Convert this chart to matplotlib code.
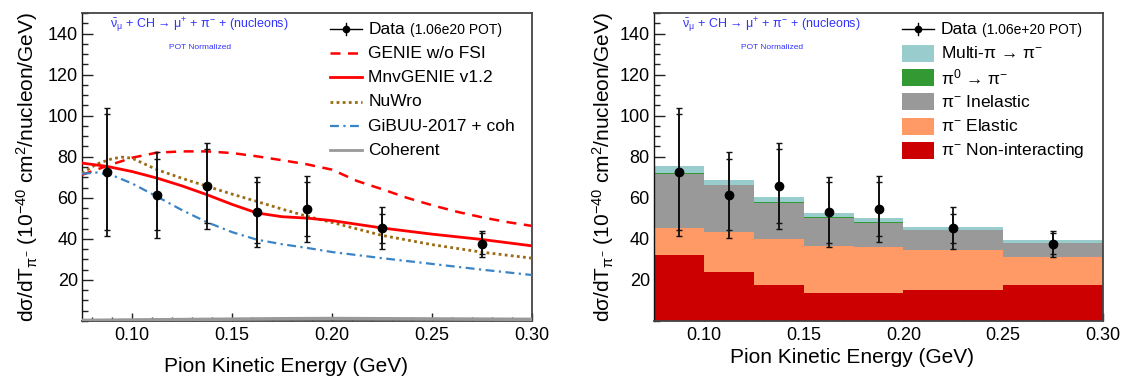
import matplotlib
matplotlib.use('Agg')
import matplotlib.pyplot as plt
from matplotlib.patches import Rectangle
from matplotlib.lines import Line2D
from matplotlib.ticker import MultipleLocator, FixedLocator, FormatStrFormatter

plt.rcParams['font.family'] = ['Liberation Sans', 'DejaVu Sans']
plt.rcParams['mathtext.fontset'] = 'custom'
plt.rcParams['mathtext.rm'] = 'Liberation Sans'
plt.rcParams['mathtext.it'] = 'Liberation Sans:italic'
plt.rcParams['mathtext.bf'] = 'Liberation Sans:bold'
plt.rcParams['mathtext.sf'] = 'Liberation Sans'

# ---------------- data ----------------
bin_edges = [0.075, 0.100, 0.125, 0.150, 0.175, 0.200, 0.250, 0.300]
data_x = [0.0875, 0.1125, 0.1375, 0.1625, 0.1875, 0.225, 0.275]
data_y = [72.5, 61.5, 65.9, 53.0, 54.6, 45.2, 37.7]
data_err_tot = [31.3, 21.0, 20.9, 17.2, 16.2, 10.2, 6.3]
data_err_stat = [28.2, 17.3, 18.0, 14.8, 13.3, 7.0, 5.0]

# model curves (left panel)
genie_nofsi_x = [0.075, 0.0875, 0.100, 0.1125, 0.125, 0.1375, 0.150, 0.1625, 0.175, 0.1875, 0.200, 0.2125, 0.225, 0.2375, 0.250, 0.2625, 0.275, 0.2875, 0.300]
genie_nofsi_y = [71.2, 75.5, 79.5, 82.0, 82.6, 82.6, 81.8, 80.2, 78.3, 76.3, 73.7, 68.2, 64.2, 60.0, 56.4, 53.2, 50.5, 48.2, 46.3]

mnv_x = [0.075, 0.0875, 0.100, 0.1125, 0.125, 0.1375, 0.150, 0.1625, 0.175, 0.1875, 0.200, 0.225, 0.250, 0.275, 0.300]
mnv_y = [76.9, 75.3, 72.8, 69.6, 65.8, 61.5, 56.8, 52.6, 50.8, 50.1, 48.9, 45.3, 42.3, 39.7, 36.6]

nuwro_x = [0.075, 0.0825, 0.090, 0.095, 0.100, 0.1125, 0.125, 0.1375, 0.150, 0.1625, 0.175, 0.1875, 0.200, 0.225, 0.250, 0.275, 0.300]
nuwro_y = [72.0, 76.5, 79.0, 79.8, 79.3, 73.7, 69.5, 65.6, 61.8, 58.2, 54.5, 51.0, 48.0, 41.7, 37.2, 33.5, 30.6]

gibuu_x = [0.075, 0.0825, 0.090, 0.100, 0.1125, 0.125, 0.1375, 0.150, 0.1625, 0.175, 0.1875, 0.200, 0.225, 0.250, 0.275, 0.300]
gibuu_y = [71.7, 72.3, 71.0, 67.0, 60.6, 54.0, 48.1, 43.3, 39.6, 37.4, 35.6, 33.6, 30.6, 27.8, 25.0, 22.4]

coh_x = [0.075, 0.100, 0.125, 0.150, 0.175, 0.200, 0.225, 0.250, 0.275, 0.300]
coh_y = [0.3, 0.5, 0.7, 0.9, 1.1, 1.2, 1.1, 1.0, 0.9, 0.8]

# stacked components (right panel)
noninteract = [32.2, 23.9, 17.6, 13.8, 13.5, 15.1, 17.6]
elastic = [13.0, 19.5, 22.4, 22.9, 22.7, 19.5, 13.8]
inelastic = [26.5, 22.6, 17.6, 13.6, 11.6, 9.5, 6.5]
pi0_to_pim = [0.4, 0.4, 0.4, 0.4, 0.4, 0.4, 0.3]
multipi = [3.3, 2.5, 2.2, 2.0, 1.8, 1.1, 1.4]

left_labels = ['GENIE w/o FSI', 'MnvGENIE v1.2', 'NuWro', 'GiBUU-2017 + coh', 'Coherent']
right_labels = [r'Multi-$\mathrm{\pi}$ → $\mathrm{\pi}^{-}$',
                r'$\mathrm{\pi}^{0}$ → $\mathrm{\pi}^{-}$',
                r'$\mathrm{\pi}^{-}$ Inelastic',
                r'$\mathrm{\pi}^{-}$ Elastic',
                r'$\mathrm{\pi}^{-}$ Non-interacting']

# ---------------- styles ----------------
C_RED = '#FF0000'
C_NUWRO = '#9C6A12'
C_GIBUU = '#3A84C6'
C_COH = '#999999'
C_MULTI = '#99CCCC'
C_PI0 = '#339933'
C_INEL = '#999999'
C_EL = '#FF9966'
C_NONINT = '#CC0000'
C_BLUE = '#3333FF'

W, H = 1128, 377
fig = plt.figure(figsize=(W / 100, H / 100), dpi=100)
axL = fig.add_axes([82 / W, 56 / H, 450 / W, 308 / H])
axR = fig.add_axes([654 / W, 56 / H, 449 / W, 308 / H])


def setup(ax, xlabel_x, ylabel_x, xlabelpad):
    ax.set_xlim(0.075, 0.30)
    ax.set_ylim(0, 150)
    ax.yaxis.set_major_locator(FixedLocator([20, 40, 60, 80, 100, 120, 140]))
    ax.yaxis.set_minor_locator(MultipleLocator(5))
    ax.xaxis.set_major_locator(FixedLocator([0.10, 0.15, 0.20, 0.25, 0.30]))
    ax.xaxis.set_minor_locator(MultipleLocator(0.01))
    ax.xaxis.set_major_formatter(FormatStrFormatter('%.2f'))
    ax.tick_params(which='both', direction='in', top=False, right=False, labelsize=13, color='#222222')
    ax.tick_params(axis='y', which='major', length=8, width=1, pad=3)
    ax.tick_params(axis='y', which='minor', length=4, width=1)
    ax.tick_params(axis='x', which='major', length=6, width=1, pad=4)
    ax.tick_params(axis='x', which='minor', length=3, width=1)
    for s in ax.spines.values():
        s.set_color('#444444')
        s.set_linewidth(1.3)
    ax.spines['left'].set_color('#111111')
    ax.spines['left'].set_linewidth(1.0)
    ax.set_xlabel('Pion Kinetic Energy (GeV)', fontsize=15, labelpad=xlabelpad)
    ax.xaxis.label.set_x(xlabel_x)
    ax.set_ylabel(r'd$\mathrm{\sigma}$/dT$_{\mathrm{\pi}^{-}}$ (10$^{-40}$ cm$^{2}$/nucleon/GeV)', fontsize=15)
    ax.yaxis.label.set_va('center')
    ax.yaxis.set_label_coords(ylabel_x, 0.5)
    ax.text(0.062, 0.959, r'$\bar{\mathrm{\nu}}_{\mathrm{\mu}}$ + CH → $\mathrm{\mu}^{+}$ + $\mathrm{\pi}^{-}$ + (nucleons)',
            transform=ax.transAxes, color=C_BLUE, fontsize=9, ha='left', va='center')
    ax.text(0.262, 0.887, 'POT Normalized', transform=ax.transAxes, color=C_BLUE,
            fontsize=6, ha='center', va='center')


def draw_data(ax):
    ax.errorbar(data_x, data_y, yerr=data_err_tot, fmt='none', ecolor='#111111',
                elinewidth=1.3, capsize=2.2, capthick=1.0, zorder=10)
    ax.errorbar(data_x, data_y, yerr=data_err_stat, fmt='none', ecolor='#111111',
                elinewidth=1.3, capsize=2.2, capthick=1.0, zorder=10)
    ax.plot(data_x, data_y, 'o', color='black', ms=6, zorder=11)


rows = [0.947, 0.869, 0.791, 0.712, 0.633, 0.555]


def data_legend_row(ax, x0, x1, xt, xs, small):
    y = rows[0]
    ax.add_line(Line2D([x0, x1], [y, y], color='black', lw=1.0, transform=ax.transAxes))
    xm = 0.5 * (x0 + x1)
    ax.add_line(Line2D([xm, xm], [y - 0.02, y + 0.02], color='black', lw=1.0, transform=ax.transAxes))
    ax.add_line(Line2D([xm], [y], marker='o', ms=4.5, color='black', transform=ax.transAxes))
    ax.text(xt, y, 'Data', transform=ax.transAxes, fontsize=12.5, va='center', ha='left')
    ax.text(xs, y - 0.003, small, transform=ax.transAxes, fontsize=10, va='center', ha='left')


# ---------------- left panel ----------------
setup(axL, 0.453, -0.122, 10)
axL.plot(coh_x, coh_y, color=C_COH, lw=2.5, zorder=3, clip_on=True)
axL.plot(genie_nofsi_x, genie_nofsi_y, color=C_RED, lw=1.8, ls=(0, (4, 3)), zorder=4)
axL.plot(mnv_x, mnv_y, color=C_RED, lw=2.0, ls='-', zorder=5)
axL.plot(nuwro_x, nuwro_y, color=C_NUWRO, lw=2.0, ls=(0, (1, 1.2)), zorder=4)
axL.plot(gibuu_x, gibuu_y, color=C_GIBUU, lw=1.6, ls=(0, (4, 2, 1, 2)), zorder=4)
draw_data(axL)

lx0, lx1, ltx = 0.551, 0.623, 0.636
data_legend_row(axL, lx0, lx1, ltx, 0.729, '(1.06e20 POT)')
left_styles = [dict(color=C_RED, lw=1.8, ls=(0, (4, 3))),
               dict(color=C_RED, lw=2.0, ls='-'),
               dict(color=C_NUWRO, lw=2.0, ls=(0, (1, 1.2))),
               dict(color=C_GIBUU, lw=1.6, ls=(0, (4, 2, 1, 2))),
               dict(color=C_COH, lw=2.0, ls='-')]
for i, (lab, st) in enumerate(zip(left_labels, left_styles)):
    y = rows[i + 1]
    axL.add_line(Line2D([lx0, lx1], [y, y], transform=axL.transAxes, **st))
    axL.text(ltx, y, lab, transform=axL.transAxes, fontsize=12.5, va='center', ha='left')

# ---------------- right panel ----------------
setup(axR, 0.442, -0.1136, 3)
layers = [(noninteract, C_NONINT), (elastic, C_EL), (inelastic, C_INEL),
          (pi0_to_pim, C_PI0), (multipi, C_MULTI)]
base = [0.0] * len(noninteract)
for vals, col in layers:
    top = [b + v for b, v in zip(base, vals)]
    axR.stairs(top, bin_edges, baseline=base, fill=True, color=col, lw=0, zorder=2)
    base = top
draw_data(axR)

rx0, rx1, rtx = 0.553, 0.624, 0.639
data_legend_row(axR, rx0, rx1, rtx, 0.730, '(1.06e+20 POT)')
legend_cols = [C_MULTI, C_PI0, C_INEL, C_EL, C_NONINT]
for i, (lab, col) in enumerate(zip(right_labels, legend_cols)):
    y = rows[i + 1]
    axR.add_patch(Rectangle((rx0, y - 0.0275), rx1 - rx0, 0.055, transform=axR.transAxes,
                            facecolor=col, edgecolor='none', zorder=12))
    axR.text(rtx, y, lab, transform=axR.transAxes, fontsize=12.5, va='center', ha='left')

fig.savefig('out.png', dpi=100)
